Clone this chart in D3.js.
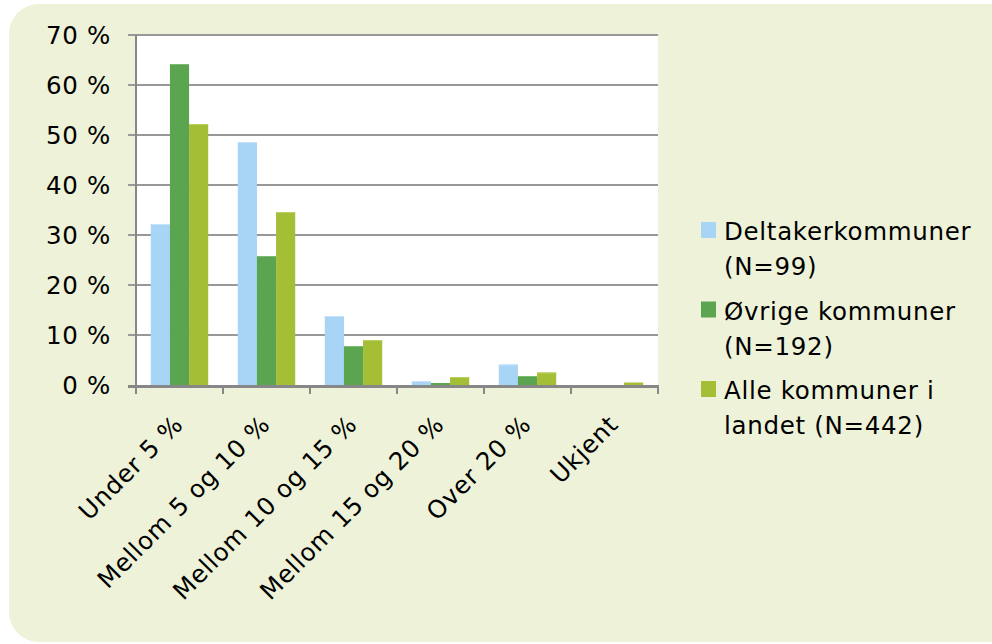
<!DOCTYPE html>
<html>
<head>
<meta charset="utf-8">
<script src="https://cdn.jsdelivr.net/npm/d3@7"></script>
<style>
  html, body { margin: 0; padding: 0; background: #fff; }
  svg text { font-family: "DejaVu Sans", Verdana, sans-serif; font-size: 24.5px; letter-spacing: 0.7px; fill: #000; }
</style>
</head>
<body>
<svg id="chart" width="992" height="644"></svg>
<script>
// categories and series
let categories = ["Under 5 %", "Mellom 5 og 10 %", "Mellom 10 og 15 %", "Mellom 15 og 20 %", "Over 20 %", "Ukjent"];
let seriesNames = [["Deltakerkommuner", "(N=99)"], ["Øvrige kommuner", "(N=192)"], ["Alle kommuner i", "landet (N=442)"]];
let deltaker = [32.2, 48.6, 13.8, 0.8, 4.1, 0];
let ovrige = [64.2, 25.8, 7.8, 0.4, 1.8, 0];
let alle = [52.2, 34.6, 9.0, 1.6, 2.5, 0.5];
let yTicks = [0, 10, 20, 30, 40, 50, 60, 70];
let colors = ["#a8d4f5", "#5ba551", "#a4be36"];
let tops = ["#c4e2f9", "#7dbb74", "#bcd163"];

let series = [deltaker, ovrige, alle];

let svg = d3.select("#chart");

// panel background
svg.append("rect")
  .attr("x", 9).attr("y", 4)
  .attr("width", 1020).attr("height", 638)
  .attr("rx", 30).attr("ry", 30)
  .attr("fill", "#edf2d8");

let plotLeft = 136, plotRight = 658, plotTop = 35, plotBottom = 385;

let x = d3.scaleBand()
  .domain(categories)
  .range([plotLeft, plotRight])
  .paddingInner(0.34)
  .paddingOuter(0.17);

let xs = d3.scaleBand()
  .domain(d3.range(series.length))
  .range([0, x.bandwidth()]);

let y = d3.scaleLinear().domain([0, 70]).range([plotBottom, plotTop]);

// plot area
svg.append("rect")
  .attr("x", plotLeft).attr("y", plotTop)
  .attr("width", plotRight - plotLeft).attr("height", plotBottom - plotTop)
  .attr("fill", "#fff");

// gridlines + y tick marks
svg.append("g")
  .selectAll("line")
  .data(yTicks.filter(d => d > 0))
  .enter().append("line")
  .attr("x1", plotLeft - 8).attr("x2", plotRight)
  .attr("y1", d => y(d)).attr("y2", d => y(d))
  .attr("stroke", "#989898")
  .attr("stroke-width", 2);

svg.append("g")
  .selectAll("text")
  .data(yTicks)
  .enter().append("text")
  .attr("x", 111)
  .attr("y", d => y(d) + 9)
  .attr("text-anchor", "end")
  .text(d => d + " %");

// bars
let step = x.step();
series.forEach(function(vals, si) {
  let g = svg.append("g");
  g.selectAll("rect")
    .data(vals)
    .enter().append("rect")
    .attr("x", (d, i) => x(categories[i]) + xs(si))
    .attr("y", d => y(d))
    .attr("width", xs.bandwidth())
    .attr("height", d => plotBottom - y(d))
    .attr("fill", colors[si]);
  // light top edge on each bar
  vals.forEach(function(d, i) {
    if (d <= 0.6) return;
    g.append("line")
      .attr("x1", x(categories[i]) + xs(si))
      .attr("x2", x(categories[i]) + xs(si) + xs.bandwidth())
      .attr("y1", y(d) + 0.5).attr("y2", y(d) + 0.5)
      .attr("stroke", tops[si]).attr("stroke-width", 1);
  });
});

// axes lines
svg.append("line")
  .attr("x1", plotLeft).attr("x2", plotLeft)
  .attr("y1", plotTop).attr("y2", plotBottom + 2)
  .attr("stroke", "#878787").attr("stroke-width", 2);

svg.append("line")
  .attr("x1", plotLeft - 8).attr("x2", plotRight)
  .attr("y1", plotBottom + 1.5).attr("y2", plotBottom + 1.5)
  .attr("stroke", "#878787").attr("stroke-width", 3);

// x tick marks at category boundaries
let bounds = d3.range(categories.length + 1).map(i => plotLeft + i * step);
svg.append("g")
  .selectAll("line")
  .data(bounds)
  .enter().append("line")
  .attr("x1", d => d).attr("x2", d => d)
  .attr("y1", plotBottom).attr("y2", plotBottom + 9)
  .attr("stroke", "#878787").attr("stroke-width", 2);

// rotated category labels
svg.append("g")
  .selectAll("text")
  .data(categories)
  .enter().append("text")
  .attr("text-anchor", "end")
  .attr("transform", d => "translate(" + (x(d) + x.bandwidth() / 2 + 5) + ",426) rotate(-45)")
  .text(d => d);

// legend
let legend = svg.append("g");
seriesNames.forEach(function(lines, i) {
  let by = 240 + i * 79.5;
  legend.append("rect")
    .attr("x", 701).attr("y", by - 18)
    .attr("width", 15).attr("height", 16)
    .attr("fill", colors[i]);
  lines.forEach(function(t, j) {
    legend.append("text")
      .attr("x", 724).attr("y", by + j * 35)
      .text(t);
  });
});
</script>
</body>
</html>
